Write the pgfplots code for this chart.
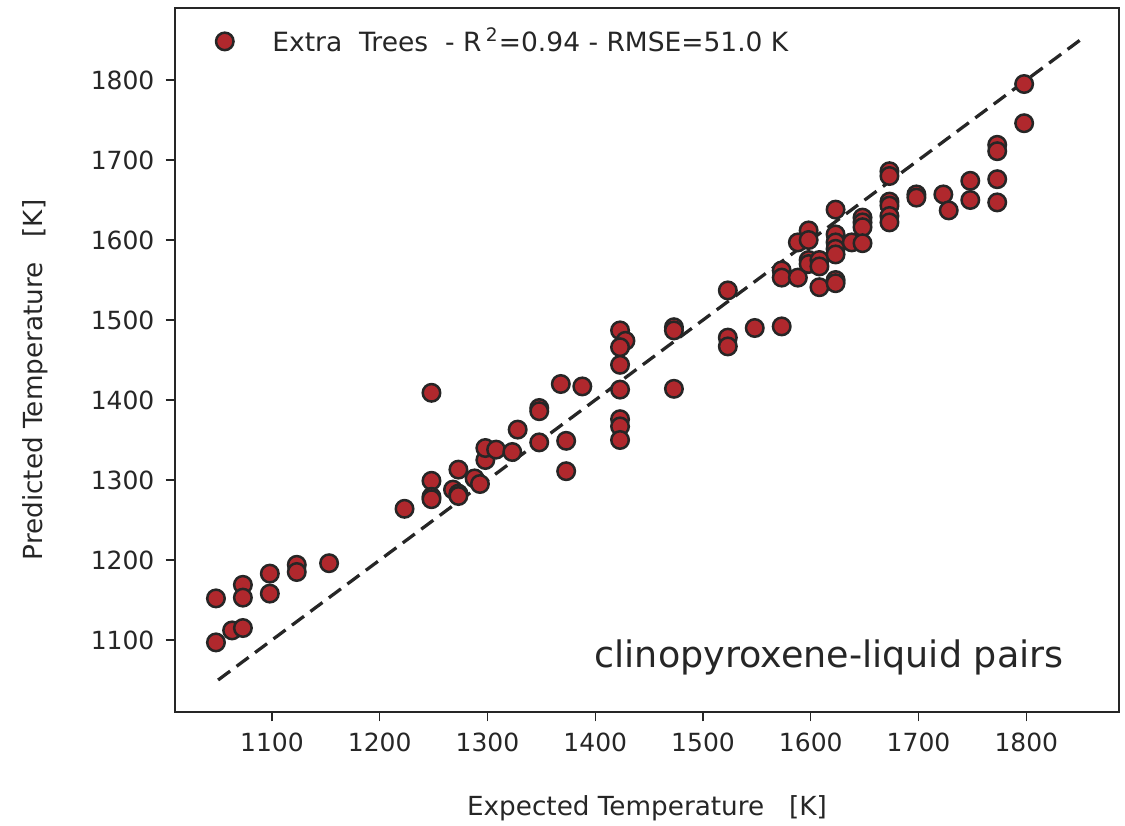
\documentclass[border=0pt]{standalone}
\usepackage{fontspec}
\setmainfont{DejaVu Sans}
\usepackage{pgfplots}
\pgfplotsset{compat=1.18}
\definecolor{pt}{HTML}{B0282D}
\definecolor{ax}{HTML}{262626}
\begin{document}
\begin{tikzpicture}
\useasboundingbox (-70pt,-45.2pt) rectangle (380pt,284.8pt);
\begin{axis}[
  scale only axis, width=377.6pt, height=281.6pt,
  xmin=1010, xmax=1886, ymin=1010, ymax=1890,
  xtick={1100,1200,...,1800}, ytick={1100,1200,...,1800},
  /pgf/number format/assume math mode=true,
  /pgf/number format/set thousands separator={},
  tick label style={font=\fontsize{10}{12}\selectfont, text=ax},
  tick align=outside, tick pos=left, major tick length=3.7pt,
  tick style={ax, line width=0.5pt},
  axis line style={ax, line width=0.8pt},
  xticklabel style={yshift=-1pt},
  yticklabel style={xshift=-1pt},
  xlabel={Expected Temperature \ \ [K]},
  ylabel={Predicted Temperature \ \ [K]},
  label style={font=\fontsize{10.5}{12}\selectfont, text=ax},
  xlabel style={at={(axis description cs:0.5,-0.1364)}, anchor=center},
  ylabel style={at={(axis description cs:-0.1485,0.4716)}, anchor=center, rotate=0},
  legend style={draw=none, fill=none, at={(axis description cs:0.035,0.987)}, anchor=north west, font=\fontsize{10.6}{12}\selectfont, text=ax},
  legend cell align=left,
]
\addplot[only marks, mark=*, mark size=3.5pt, mark options={fill=pt, draw=ax, line width=1pt}] coordinates {
(1048,1152) (1048,1097) (1063,1112) (1073,1115) (1073,1169) (1073,1153)
(1098,1183) (1098,1158) (1123,1194) (1123,1185) (1153,1196) (1223,1264)
(1248,1409) (1248,1299) (1248,1279) (1248,1276) (1268,1288) (1273,1313)
(1273,1283) (1273,1280) (1288,1302) (1293,1295) (1298,1325) (1298,1340)
(1308,1338) (1323,1335) (1328,1363) (1348,1390) (1348,1386) (1348,1347)
(1368,1420) (1388,1417) (1373,1349) (1373,1311) (1423,1487) (1428,1474)
(1423,1466) (1423,1444) (1423,1413) (1423,1376) (1423,1367) (1423,1350)
(1473,1491) (1473,1487) (1473,1414) (1523,1537) (1523,1478) (1523,1467)
(1548,1490) (1573,1492) (1573,1562) (1573,1553) (1588,1553) (1588,1597)
(1598,1612) (1598,1600) (1598,1575) (1598,1570) (1608,1575) (1608,1567)
(1608,1541) (1623,1638) (1623,1607) (1623,1597) (1623,1589) (1623,1582)
(1623,1550) (1623,1546) (1638,1597) (1648,1628) (1648,1622) (1648,1616)
(1648,1596) (1673,1686) (1673,1680) (1673,1648) (1673,1643) (1673,1630)
(1673,1622) (1698,1657) (1698,1653) (1723,1657) (1728,1637) (1748,1674)
(1748,1650) (1773,1719) (1773,1711) (1773,1676) (1773,1647) (1798,1795)
(1798,1746)
};
\addlegendentry{\hspace{6.8pt}\ \ Extra\ \ Trees \ - R\,\textsuperscript{2}=0.94 - RMSE=51.0 K}
\addplot[ax, line width=1.3pt, dash pattern=on 6pt off 3.2pt, forget plot] coordinates {(1050,1050) (1850,1850)};
\node[anchor=east, inner sep=0pt, font=\fontsize{14.6}{16}\selectfont, text=ax] at (axis description cs:0.9417,0.078) {clinopyroxene-liquid pairs};
\end{axis}
\end{tikzpicture}
\end{document}
